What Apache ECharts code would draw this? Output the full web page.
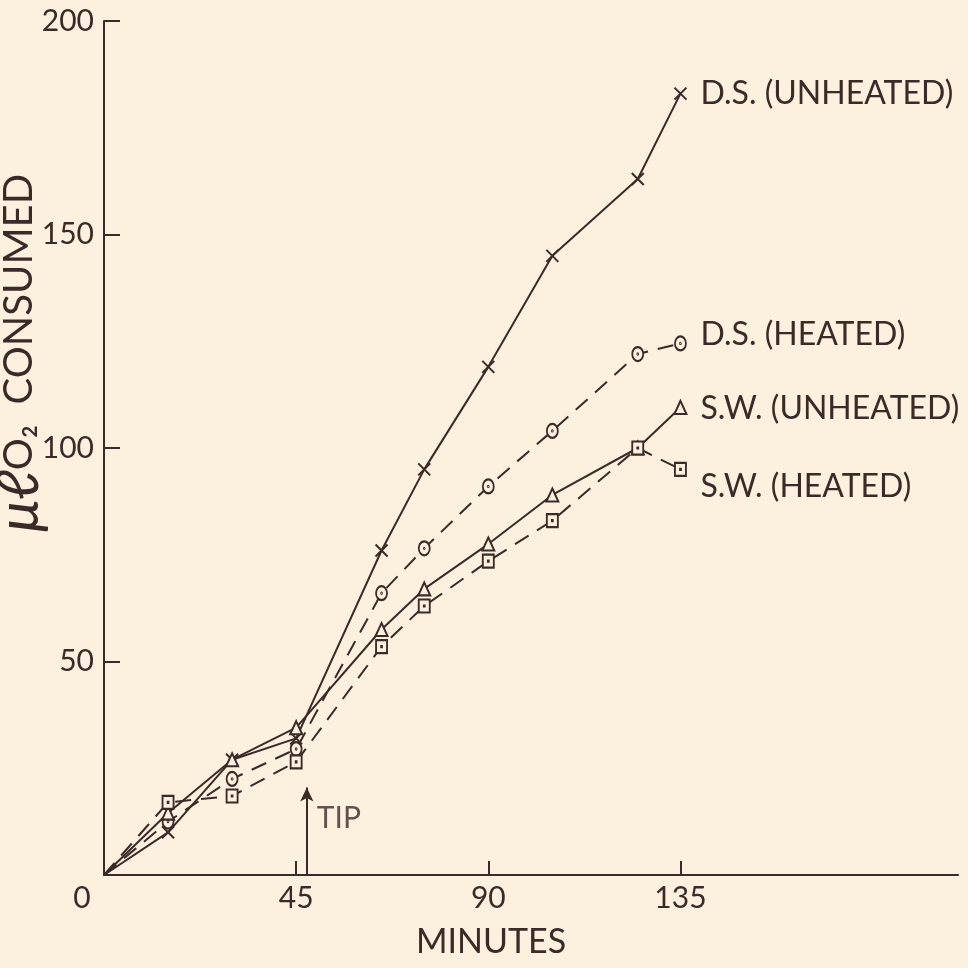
<!DOCTYPE html>
<html>
<head>
<meta charset="utf-8">
<title>O2 consumed</title>
<script src="https://cdn.jsdelivr.net/npm/echarts@6/dist/echarts.min.js"></script>
<style>
  html, body { margin: 0; padding: 0; background: #fcf0de; }
  #main { width: 968px; height: 968px; }
</style>
</head>
<body>
<div id="main"></div>
<script>
var minutes = [0, 15, 30, 45, 65, 75, 90, 105, 125, 135];
var dsUnheated = [0, 10, 27, 32, 76, 95, 119, 145, 163, 183];
var dsHeated = [0, 12.5, 22.5, 29.5, 66, 76.5, 91, 104, 122, 124.5];
var swUnheated = [0, 14.5, 27, 34.5, 57.5, 67, 77.5, 89, 100, 109.5];
var swHeated = [0, 17, 18.5, 26.5, 53.5, 63, 73.5, 83, 100, 95];
var xLabels = [0, 45, 90, 135];
var xTicks = [45, 90, 135];
var yTicks = [50, 100, 150, 200];
var tipAt = 47.5;
var tipTop = 20.5;

var ink = '#3a2a28';
var paper = '#fcf0de';
var font = 'Lato';

var crossSym = 'path://M0,0L10,10M10,0L0,10';
var circleSym = 'path://M10,5A5,5,0,1,1,0,5A5,5,0,1,1,10,5ZM5.4,5A0.4,0.4,0,1,1,4.6,5A0.4,0.4,0,1,1,5.4,5Z';
var squareSym = 'path://M0,0L10,0L10,10L0,10ZM4.6,4.6L5.4,4.6L5.4,5.4L4.6,5.4Z';

function pairs(ys) {
  return minutes.map(function (m, i) {
    if (i === 0) return { value: [m, ys[i]], symbol: 'none' };
    return [m, ys[i]];
  });
}

function curve(name, ys, sym, size, dashed, labelOffset) {
  return {
    name: name,
    type: 'line',
    data: pairs(ys),
    symbol: sym,
    symbolSize: size,
    lineStyle: { color: ink, width: 2, type: dashed ? [16, 10] : 'solid' },
    itemStyle: { color: paper, borderColor: ink, borderWidth: 2 },
    endLabel: {
      show: true,
      formatter: name,
      color: ink,
      fontFamily: font,
      fontSize: 32,
      distance: 20,
      offset: labelOffset
    },
    z: 3
  };
}

var myChart = echarts.init(document.getElementById('main'));

var dsu = curve('D.S. (UNHEATED)', dsUnheated, crossSym, 12, false, [0, 0]);
// arrow marking when the tip was made
dsu.markLine = {
  silent: true,
  symbol: ['none', 'arrow'],
  symbolSize: [10, 14],
  lineStyle: { color: ink, width: 2, type: 'solid' },
  label: { show: false },
  data: [[{ coord: [tipAt, 0] }, { coord: [tipAt, tipTop] }]]
};

var option = {
  backgroundColor: paper,
  animation: false,
  grid: { left: 104, right: 10, top: 21, bottom: 93, outerBoundsMode: 'none' },
  xAxis: {
    type: 'value',
    min: 0,
    max: 200,
    name: 'MINUTES',
    nameLocation: 'middle',
    nameGap: 50,
    nameMoveOverlap: false,
    nameTextStyle: { color: ink, fontFamily: font, fontSize: 34, padding: [0, 80, 0, 0] },
    axisLine: { lineStyle: { color: ink, width: 2 } },
    axisTick: { inside: true, length: 14, customValues: xTicks, lineStyle: { color: ink, width: 2 } },
    axisLabel: {
      customValues: xLabels,
      color: ink,
      fontFamily: font,
      fontSize: 30,
      margin: 8,
      formatter: function (v) { return v === 0 ? '{z|0}' : String(v); },
      rich: { z: { padding: [0, 44, 0, 0], color: ink, fontFamily: font, fontSize: 30 } }
    },
    splitLine: { show: false }
  },
  yAxis: {
    type: 'value',
    min: 0,
    max: 200,
    name: '{mu|μℓ}{o|O₂  CONSUMED}',
    nameLocation: 'middle',
    nameGap: 56,
    nameRotate: 90,
    nameMoveOverlap: false,
    nameTextStyle: {
      color: ink,
      fontFamily: font,
      fontSize: 40,
      padding: [0, 0, 0, 190],
      rich: {
        mu: { color: ink, fontFamily: font, fontSize: 58, fontStyle: 'italic' },
        o: { color: ink, fontFamily: font, fontSize: 40 }
      }
    },
    axisLine: { show: true, lineStyle: { color: ink, width: 2 } },
    axisTick: { show: true, inside: true, length: 16, customValues: yTicks, lineStyle: { color: ink, width: 2 } },
    axisLabel: {
      customValues: yTicks,
      color: ink,
      fontFamily: font,
      fontSize: 30,
      margin: 10
    },
    splitLine: { show: false }
  },
  series: [
    dsu,
    curve('D.S. (HEATED)', dsHeated, circleSym, [11, 14], true, [0, -9]),
    curve('S.W. (UNHEATED)', swUnheated, 'triangle', [12, 13], false, [0, 1]),
    curve('S.W. (HEATED)', swHeated, squareSym, [11, 13], true, [0, 17]),
    {
      name: 'tip',
      type: 'scatter',
      data: [[tipAt, 13.3]],
      symbolSize: 0,
      silent: true,
      label: {
        show: true,
        position: 'right',
        distance: 10,
        formatter: 'TIP',
        color: ink,
        fontFamily: font,
        fontSize: 30
      }
    }
  ]
};

myChart.setOption(option);
</script>
</body>
</html>
